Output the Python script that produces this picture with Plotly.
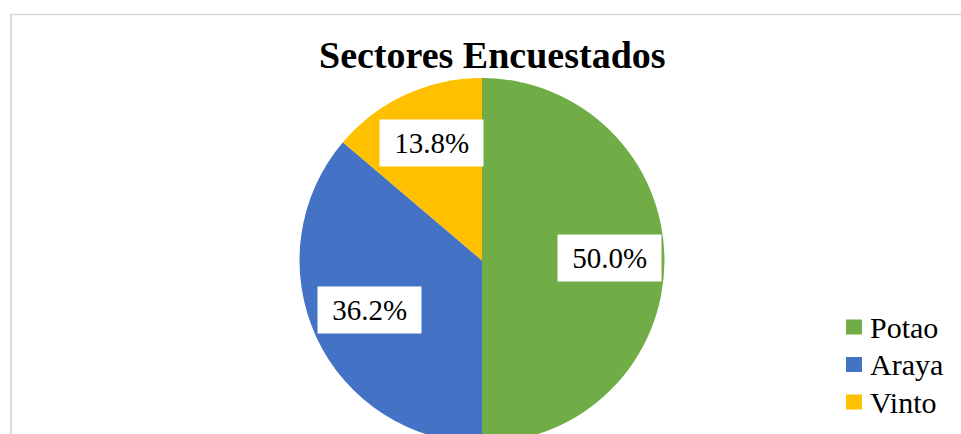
import math
import plotly.graph_objects as go

# Data
labels = ["Potao", "Araya", "Vinto"]
counts = [29, 21, 8]
colors = ["#70AD47", "#4472C4", "#FFC000"]
title_text = "Sectores Encuestados"

W, H = 961, 460          # figure taller than the window -> pie bottom gets cropped
FONT = "Liberation Serif, Times New Roman, serif"

def px_x(p):
    return p / W

def px_y(p):
    return 1 - p / H

cx, cy, r = 482, 260.5, 182.5

fig = go.Figure(go.Pie(
    labels=labels,
    values=counts,
    marker=dict(colors=colors, line=dict(width=0)),
    sort=False,
    direction="clockwise",
    rotation=0,
    textinfo="none",
    hoverinfo="label+percent",
    showlegend=False,
    domain=dict(x=[px_x(cx - r), px_x(cx + r)], y=[px_y(cy + r), px_y(cy - r)]),
))

# data labels in white boxes, positioned at the middle angle of each slice
total = sum(counts)
start = 0.0
annotations = []
for lab, v in zip(labels, counts):
    frac = v / total
    mid = (start + frac / 2) * 2 * math.pi
    start += frac
    f = 0.69
    x = cx + r * f * math.sin(mid)
    y = cy - r * f * math.cos(mid)
    annotations.append(dict(
        x=px_x(x + 2), y=px_y(y - 3), xref="paper", yref="paper",
        text=f"&nbsp;{frac*100:.1f}%&nbsp;", showarrow=False,
        font=dict(family=FONT, size=29, color="#000000"),
        bgcolor="#FFFFFF", borderpad=7, xanchor="center", yanchor="middle",
    ))

annotations.append(dict(
    x=px_x(492.5), y=px_y(55), xref="paper", yref="paper",
    text=f"<b>{title_text}</b>", showarrow=False,
    font=dict(family=FONT, size=38, color="#000000"),
    xanchor="center", yanchor="middle",
))

shapes = [
    dict(type="line", xref="paper", yref="paper", x0=px_x(11), x1=1.0,
         y0=px_y(14.5), y1=px_y(14.5), line=dict(color="#D9D9D9", width=1.3)),
    dict(type="line", xref="paper", yref="paper", x0=px_x(11), x1=px_x(11),
         y0=px_y(14), y1=0, line=dict(color="#D9D9D9", width=2)),
]

# legend (drawn from the label / colour lists)
leg_top, leg_step = 327, 37.5
for i, (lab, col) in enumerate(zip(labels, colors)):
    yc = leg_top + i * leg_step
    shapes.append(dict(type="rect", xref="paper", yref="paper",
                       x0=px_x(846), x1=px_x(862), y0=px_y(yc - 7.5), y1=px_y(yc + 7.5),
                       fillcolor=col, line=dict(width=0)))
    annotations.append(dict(
        x=px_x(868), y=px_y(yc), xref="paper", yref="paper",
        text=lab, showarrow=False, xanchor="left", yanchor="middle",
        font=dict(family=FONT, size=30, color="#000000"),
    ))

fig.update_layout(
    width=W, height=H,
    margin=dict(l=0, r=0, t=0, b=0),
    paper_bgcolor="#FFFFFF",
    plot_bgcolor="#FFFFFF",
    annotations=annotations,
    shapes=shapes,
    showlegend=False,
)

fig.write_html(
    "out.html",
    config={"displayModeBar": False},
    post_script="document.body.style.margin='0';document.body.style.overflow='hidden';",
)
